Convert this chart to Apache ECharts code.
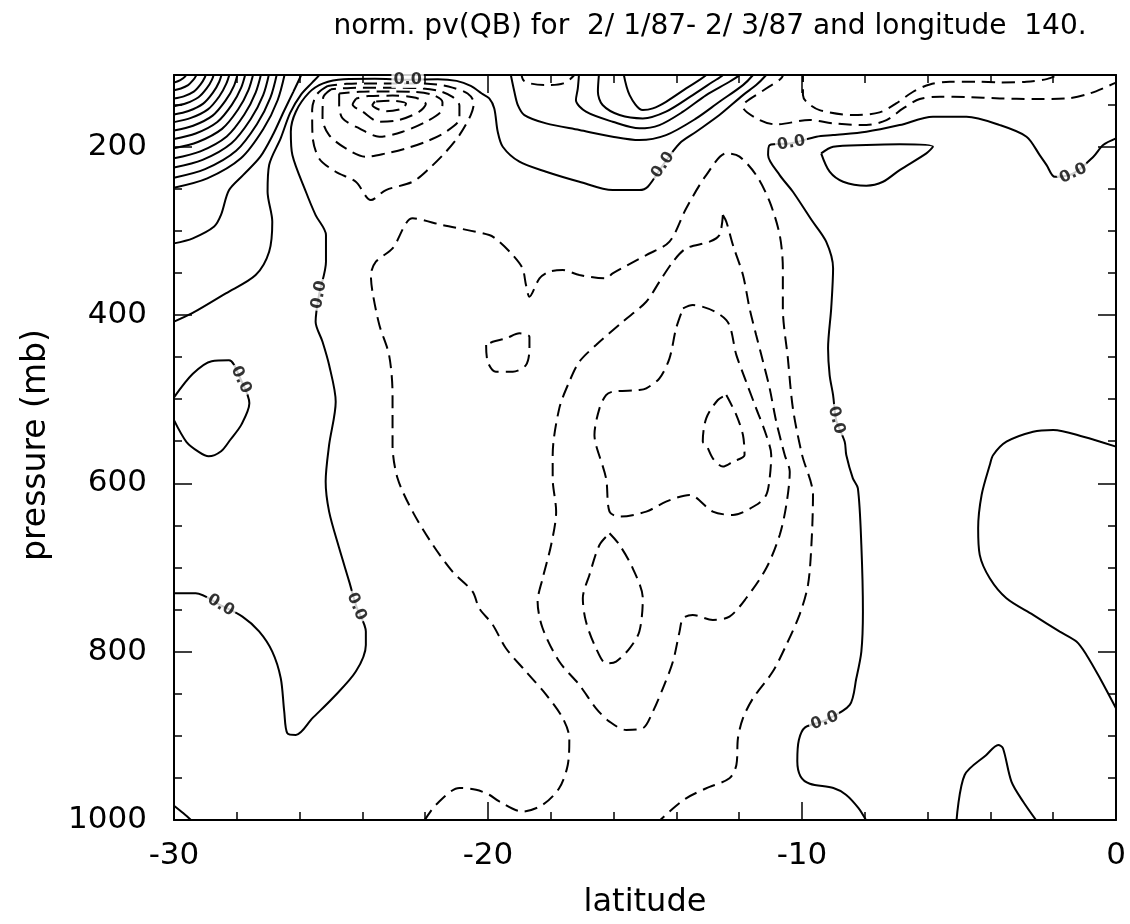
<!DOCTYPE html>
<html>
<head>
<meta charset="utf-8">
<script src="https://cdn.jsdelivr.net/npm/echarts@6/dist/echarts.min.js"></script>
<style>
html, body { margin: 0; padding: 0; background: #fff; }
#chart { width: 1130px; height: 924px; }
</style>
</head>
<body>
<div id="chart"></div>
<script>
// ---- axes ----
const latRange = [-30, 0];
const pressureRange = [115, 1000];
const latLabels = [-30, -20, -10, 0];
const pressureLabels = [200, 400, 600, 800, 1000];
const pressureMinor = [150, 250, 300, 350, 450, 500, 550, 650, 700, 750, 850, 900, 950];

// ---- contours of normalized PV, [latitude, pressure] ----
// positive values (solid): dense fan in the upper-left corner
const fan1 = [[-30,124],[-29.8,121],[-29.65,117],[-29.55,110]];
const fan2 = [[-30,133],[-29.78,131],[-29.55,127],[-29.4,121.5],[-29.3,116],[-29.25,110]];
const fan3 = [[-30,143],[-29.69,140.4],[-29.37,134.8],[-29.16,126.5],[-29.02,118],[-28.95,110]];
const fan4 = [[-30,152],[-29.61,148.6],[-29.22,141.5],[-28.96,131],[-28.79,120.5],[-28.7,110]];
const fan5 = [[-30,162],[-29.54,157.8],[-29.07,149],[-28.76,136],[-28.56,123],[-28.45,110]];
const fan6 = [[-30,171],[-29.46,166],[-28.92,155.8],[-28.56,140.5],[-28.33,125],[-28.2,110]];
const fan7 = [[-30,181],[-29.39,175.3],[-28.77,163.3],[-28.36,145.5],[-28.09,128],[-27.95,110]];
const fan8 = [[-30,191],[-29.31,184.5],[-28.62,170.8],[-28.16,150.5],[-27.86,130],[-27.7,110]];
const fan9 = [[-30,202],[-29.24,194.6],[-28.47,179],[-27.96,156],[-27.63,133],[-27.45,110]];
const fan10 = [[-30,214],[-29.16,205.7],[-28.32,188],[-27.76,162],[-27.4,136],[-27.2,110]];
const fan11 = [[-30,225],[-29.09,215.8],[-28.17,196],[-27.56,167.5],[-27.16,139],[-26.95,110]];
const fan12 = [[-30,237],[-29.01,226.8],[-28.02,205],[-27.36,173.5],[-26.93,142],[-26.7,110]];
const fan13 = [[-30,249],[-28.94,237.9],[-27.87,214],[-27.16,179.5],[-26.7,145],[-26.45,110]];
const fanB = [[-30,315],[-29.4,309],[-28.72,295],[-28.5,281],[-28.25,252],[-27.8,234],[-27.25,212],[-26.85,186],[-26.5,158],[-26.2,135],[-25.95,115],[-25.9,108]];
const fanC = [[-30,408],[-29.42,398],[-28.35,374.4],[-27.4,352.6],[-26.97,324.9],[-26.87,289.3],[-27.02,253.7],[-26.97,222],[-26.6,190],[-26.3,160],[-25.95,138],[-25.6,124],[-25.35,114],[-25.3,108]];

// zero line on the western side, running up under the top edge and round the upper positive lobe
const zeroWest = [[-30,730.7],[-29.31,730.7],[-28.51,745],[-27.82,758.4],[-27.29,776],[-26.87,800],[-26.6,831.6],
  [-26.49,871],[-26.39,897],[-26.12,899],[-25.59,879],[-24.95,855.4],[-24.21,823.7],[-23.89,792],[-23.89,776.2],
  [-24.19,746.5],[-24.42,716.8],[-24.74,677],[-25.06,633.7],[-25.17,598],[-25.06,554.5],[-24.85,503.1],
  [-25.06,459.5],[-25.27,431.8],[-25.49,408.1],[-25.38,376],[-25.16,336.8],[-25.16,305.1],[-25.49,281.4],
  [-25.8,253.7],[-26.23,210.1],[-26.28,182.4],[-26.12,158.6],[-25.7,136],[-25.25,125],[-24.6,120],
  [-23.6,119.5],[-22.56,120.5],[-21.6,120],[-21.0,122],[-20.55,128],[-20.2,137],[-19.96,142.8],[-19.8,154.7],
  [-19.69,182.4],[-19.53,200.2],[-19.0,218],[-18.15,229.9],[-17.09,241.8],[-16.03,251.7],[-15.18,251.7],
  [-14.91,247.7],[-14.43,222],[-13.9,196.3],[-13.37,182.4],[-12.63,162.6],[-11.88,138.9],[-11.46,127],
  [-11.14,115],[-11.0,108]];
const leftLoop = [[-30,498],[-29.4,470],[-28.8,455],[-28.25,454],[-27.87,477],[-27.6,505],[-27.85,530],
  [-28.2,548],[-28.5,562],[-28.9,568],[-29.2,563],[-29.6,551],[-30,525]];
const cornerBL = [[-30,983],[-29.7,992],[-29.4,1002]];

// positive lobe under the top boundary near 15S
const upper1 = [[-19.3,110],[-19.16,134.9],[-19.05,150.7],[-18.84,162.6],[-18.15,172.5],[-17.09,180.4],[-16.03,188.3],
  [-15.18,192.3],[-14.33,186.4],[-13.37,166.6],[-12.63,146.8],[-11.88,127],[-11.56,115],[-11.45,108]];
const upper2 = [[-17.09,108],[-17.14,130.9],[-17.2,144.8],[-16.88,158.6],[-16.03,170.5],[-15.18,178.4],[-14.54,174.5],
  [-13.79,158.6],[-13.05,138.9],[-12.31,123],[-11.99,115],[-11.9,108]];
const upper3 = [[-16.45,108],[-16.5,134.9],[-16.35,150.7],[-15.81,162.6],[-15.07,166.6],[-14.33,158.6],[-13.48,138.9],
  [-12.84,123],[-12.52,115],[-12.45,108]];
const upper4 = [[-15.71,108],[-15.49,138.9],[-15.07,156.7],[-14.75,154.7],[-14.33,146.8],[-13.69,130.9],[-13.05,115],[-12.98,108]];

// zero lines in the east
const zeroEast = [[0,190.3],[-0.41,198.2],[-0.72,212],[-1.36,232],[-1.95,236],[-2.21,222],[-2.43,210.1],[-2.85,188.3],
  [-3.7,174.5],[-4.76,164.6],[-5.83,164.6],[-6.89,174.5],[-7.95,182.4],[-9.01,186.4],[-9.54,188.3],[-10.34,196],
  [-11.03,198.2],[-11.08,210.1],[-10.71,233.9],[-10.29,253.7],[-9.7,287],[-9.23,313],[-9.01,344.7],[-9.07,392.2],
  [-9.17,439.7],[-9.12,471.4],[-9.01,495.2],[-8.91,525],[-8.64,550.6],[-8.59,566.4],[-8.38,594.1],[-8.22,606],
  [-8.11,673.3],[-8.06,752.5],[-8.11,800],[-8.27,831.6],[-8.48,863.3],[-9.28,882],[-9.9,890],[-10.1,905],
  [-10.15,930],[-10.05,948],[-9.75,957],[-9.0,962],[-8.6,970],[-8.2,986],[-7.95,1001]];
const zeroIsland = [[-9.39,208.1],[-9.01,200.2],[-7.95,198.2],[-6.89,197.4],[-5.83,200.2],[-6.04,208.1],[-6.89,227.9],
  [-7.42,241.8],[-7.95,246.5],[-8.69,241.8],[-9.12,229.9],[-9.39,208.1]];
const zeroSE = [[0,556.5],[-1.04,544.7],[-2.0,536.7],[-2.64,538.7],[-3.49,550.6],[-3.91,566.4],[-4.02,578.3],[-4.28,613.9],
  [-4.39,653.5],[-4.34,685.1],[-4.02,712.9],[-3.49,736.6],[-2.64,756.4],[-1.79,776.2],[-1.26,788.1],[-0.94,803.9],
  [-0.51,831.6],[0,867.3]];
const zeroBump = [[-5.08,1001],[-4.82,946.5],[-4.13,922.7],[-3.75,910.8],[-3.6,914.8],[-3.33,954.4],[-2.96,978.1],[-2.53,1001]];

// negative values (dashed)
const outerNeg = [[-22.03,1001],[-21.66,982],[-20.91,962],[-20.38,964],[-19.96,970],[-19.64,978],[-18.9,990],[-18.26,982],
  [-17.73,962],[-17.46,934.6],[-17.41,903],[-17.62,879],[-18.15,851],[-18.79,823.7],[-19.43,796],[-19.85,768],
  [-20.28,748.5],[-20.49,728.7],[-21.13,705],[-21.76,673],[-22.4,633.7],[-22.88,594],[-23.04,554.5],[-23.04,495],
  [-23.15,447.7],[-23.46,412],[-23.68,372.4],[-23.73,352.6],[-23.57,336.8],[-23.04,321],[-22.4,285.3],[-21.45,293.3],
  [-19.96,305.1],[-19.64,313],[-19.21,329],[-18.9,344.7],[-18.79,364.5],[-18.68,378.4],[-18.36,356.6],[-18.05,348.7],
  [-17.62,346.7],[-17.09,352.6],[-16.24,356.6],[-16.03,350.7],[-14.96,328.9],[-14.22,313],[-13.69,273.5],[-13.05,233.9],
  [-12.41,208.1],[-11.99,212],[-11.46,233.9],[-11.03,265.5],[-10.71,305.1],[-10.61,344.7],[-10.61,392.2],[-10.45,451.6],
  [-10.29,511],[-10.0,566],[-9.65,614],[-9.7,673],[-9.81,720.8],[-10.08,756.4],[-10.5,792],[-10.93,823.7],[-11.56,855.4],
  [-11.88,879.1],[-12.04,902.9],[-12.09,934.6],[-12.31,950.4],[-13.05,962.3],[-13.69,974.2],[-14.22,990],[-14.54,1001]];
const midNeg = [[-12.52,281.4],[-12.63,305.1],[-12.94,313],[-13.69,321],[-14.11,336.8],[-14.54,360.6],[-14.96,384.3],
  [-15.71,408.1],[-16.56,435.8],[-17.09,455.6],[-17.41,479.3],[-17.73,511],[-17.94,566.4],[-17.94,594.1],[-17.83,633.7],
  [-17.99,673.3],[-18.26,712.9],[-18.42,740.6],[-18.26,772.2],[-17.73,811.8],[-17.09,839.5],[-16.56,867.3],[-16.13,883.1],
  [-15.6,893],[-15.07,891],[-14.75,871.2],[-14.43,843.5],[-14.11,811.8],[-13.9,776.2],[-13.79,760.4],[-13.48,756.4],
  [-12.84,762.3],[-12.31,758.4],[-11.78,736.6],[-11.14,701],[-10.71,661.4],[-10.5,625.8],[-10.39,586.2],[-10.55,566.4],
  [-10.82,526.8],[-11.03,487.2],[-11.24,455.6],[-11.46,423.9],[-11.67,392.2],[-11.88,352.6],[-12.2,317],[-12.41,289.3],
  [-12.52,281.4]];
const innerNeg = [[-13.79,392.2],[-13.48,388.3],[-12.41,406.1],[-12.09,447.7],[-11.78,479.3],[-11.46,511],[-11.14,542.7],
  [-10.98,566.4],[-11.03,594.1],[-11.14,613.9],[-11.46,625.8],[-12.2,637.6],[-12.84,633.7],[-13.58,613.9],[-14.33,621.8],
  [-14.96,633.7],[-15.81,639.6],[-16.13,633.7],[-16.24,594.1],[-16.56,554.5],[-16.61,542.7],[-16.45,511],[-16.24,495.2],
  [-16.03,491.2],[-15.18,489.2],[-14.96,487.2],[-14.54,475.4],[-14.22,451.6],[-14.01,416],[-13.79,392.2]];
const coreNeg = [[-12.41,495.2],[-12.09,519],[-11.88,542.7],[-11.83,566.4],[-12.2,574.3],[-12.52,580.2],[-12.84,570.3],
  [-13.05,554.5],[-13.16,550.5],[-13.05,522.9],[-12.68,501.1],[-12.41,495.2]];
const westNeg = [[-20.06,435.8],[-20.01,455.6],[-19.75,467.5],[-19.21,467.5],[-18.79,459.5],[-18.68,439.7],[-18.68,425.9],
  [-19.0,421.9],[-19.43,427.9],[-19.85,431.8],[-20.06,435.8]];
const dropNeg = [[-16.13,659.4],[-15.81,673.3],[-15.39,701],[-15.07,736.6],[-15.18,776.2],[-15.49,796],[-15.92,811.8],
  [-16.24,813.8],[-16.56,796],[-16.88,764.3],[-16.98,736.6],[-16.77,708.9],[-16.45,673.3],[-16.13,659.4]];
const topNeg1 = [[-25.1,128],[-25.45,138],[-25.6,156],[-25.59,186.4],[-25.38,214.1],[-24.85,229.9],[-24.21,241.8],
  [-23.73,263.6],[-23.25,251.7],[-22.4,241.8],[-21.87,226],[-21.34,206.2],[-20.91,186.4],[-20.55,162.6],[-20.45,148],
  [-20.65,137],[-21.13,130],[-21.6,126.5],[-22.3,125],[-23.5,125],[-24.5,125.5],[-25.1,128]];
const topNeg2 = [[-25.0,132],[-25.25,142],[-25.27,166.6],[-25.06,186.4],[-24.53,202.2],[-23.89,212.1],[-23.25,208.1],
  [-22.61,202.2],[-21.98,194.3],[-21.34,182.4],[-20.91,166.6],[-20.91,151.5],[-21.13,141],[-21.55,134],[-22.08,131],
  [-23.0,130],[-24.2,130],[-25.0,132]];
const topNeg3 = [[-24.74,137],[-24.74,150],[-24.63,166.6],[-24.1,178.4],[-23.46,188.3],[-22.72,182.4],[-21.98,170.5],
  [-21.5,158.6],[-21.45,147.5],[-21.77,138.5],[-22.4,135],[-23.15,134.5],[-24.1,135],[-24.74,137]];
const topNeg4 = [[-24.2,143],[-24.31,150],[-23.99,158.6],[-23.46,170.5],[-22.83,168.5],[-22.19,158.6],[-21.98,149.5],
  [-22.3,142],[-23.04,139.5],[-23.8,140],[-24.2,143]];
const topNeg5 = [[-23.6,146.5],[-23.68,150.7],[-23.25,158],[-22.72,154.7],[-22.61,149],[-23.04,145.5],[-23.6,146.5]];
const topNegLobe = [[-18.95,108],[-18.85,122],[-18.2,127],[-17.6,125],[-17.25,115],[-17.2,108]];
const eastNegA = [[-9.97,108],[-9.97,138.9],[-9.86,146.8],[-9.44,156.7],[-8.38,162.6],[-7.53,159.4],[-7.0,148.8],
  [-6.46,134.9],[-5.93,126.2],[-5.29,123],[-4.44,123],[-3.7,123.8],[-2.85,123],[-2.21,119.9],[-1.89,115],[-1.8,108]];
const eastNegB = [[-10.61,108],[-10.61,115.1],[-11.14,131],[-11.78,146.8],[-11.88,152.7],[-11.35,168.5],[-10.82,173.7],
  [-9.76,168.5],[-9.01,172.5],[-7.95,174.5],[-7.31,168.5],[-6.78,154.7],[-6.25,143.6],[-5.61,140.8],[-4.76,141.2],
  [-3.7,142.8],[-2.64,143.6],[-1.57,142.8],[-0.83,136.9],[0,124]];

// "0.0" labels on the zero lines: [latitude, pressure, text angle]
const zeroLabels = [[-28.51,745,-30],[-24.19,746.5,-68],[-27.87,477,-65],[-25.38,376,80],[-22.56,121,0],
  [-14.43,222,55],[-10.34,196,10],[-1.36,232,25],[-8.91,525,-76],[-9.28,882,20]];

const solidContours = [fan1, fan2, fan3, fan4, fan5, fan6, fan7, fan8, fan9, fan10, fan11, fan12, fan13, fanB, fanC,
  zeroWest, leftLoop, cornerBL, upper1, upper2, upper3, upper4, zeroEast, zeroIsland, zeroSE, zeroBump];
const dashedContours = [outerNeg, midNeg, innerNeg, coreNeg, westNeg, dropNeg, topNeg1, topNeg2, topNeg3, topNeg4,
  topNeg5, topNegLobe, eastNegA, eastNegB];

// ---- chart ----
const FONT = 'DejaVu Sans';
const ink = '#000';

function contourSeries(points, dashed) {
  return {
    type: 'line', data: points, xAxisIndex: 0, yAxisIndex: 0,
    showSymbol: false, symbol: 'none', smooth: 0.3, clip: true, silent: true,
    lineStyle: { color: ink, width: 2, type: dashed ? [13, 7] : 'solid' },
    z: 2
  };
}

function latAxis(position, showLabels) {
  return {
    type: 'value', position, min: latRange[0], max: latRange[1], interval: 10,
    axisLine: { show: true, onZero: false, lineStyle: { color: ink, width: 2 } },
    axisTick: { show: true, inside: true, length: 18, lineStyle: { color: ink, width: 1.5 } },
    minorTick: { show: true, splitNumber: 5, length: 8, lineStyle: { color: ink, width: 1.5 } },
    splitLine: { show: false }, minorSplitLine: { show: false },
    axisLabel: {
      show: showLabels, margin: 20, color: ink, fontFamily: FONT, fontSize: 31,
      showMinLabel: true, showMaxLabel: true,
      formatter: v => (latLabels.indexOf(v) >= 0 ? String(v) : '')
    }
  };
}

function pressureAxis(position, ticks, tickLen, showLabels, showLine) {
  return {
    type: 'value', position, inverse: true, min: pressureRange[0], max: pressureRange[1],
    axisLine: { show: showLine, onZero: false, lineStyle: { color: ink, width: 2 } },
    axisTick: { show: true, inside: true, length: tickLen, customValues: ticks, lineStyle: { color: ink, width: 1.5 } },
    splitLine: { show: false },
    axisLabel: {
      show: showLabels, customValues: pressureLabels, margin: 27, color: ink,
      fontFamily: FONT, fontSize: 31, formatter: v => String(v)
    }
  };
}

const chart = echarts.init(document.getElementById('chart'), null, { renderer: 'canvas' });

const series = solidContours.map(c => contourSeries(c, false))
  .concat(dashedContours.map(c => contourSeries(c, true)));

series.push({
  type: 'scatter', xAxisIndex: 0, yAxisIndex: 0, symbolSize: 0, silent: true, z: 5,
  data: zeroLabels.map(d => ({ value: [d[0], d[1]], label: { rotate: d[2] } })),
  label: {
    show: true, position: 'inside', formatter: '0.0', color: ink,
    fontFamily: FONT, fontWeight: 'bold', fontSize: 16,
    backgroundColor: '#fff', padding: [0, 2]
  }
});

chart.setOption({
  animation: false,
  backgroundColor: '#fff',
  grid: { left: 174, right: 14, top: 75, bottom: 104 },
  xAxis: [latAxis('bottom', true), latAxis('top', false)],
  yAxis: [
    pressureAxis('left', pressureLabels, 18, true, true),
    pressureAxis('left', pressureMinor, 8, false, false),
    pressureAxis('right', pressureLabels, 18, false, true),
    pressureAxis('right', pressureMinor, 8, false, false)
  ],
  graphic: [
    { type: 'text', x: 710, y: 27, style: {
      text: 'norm. pv(QB) for  2/ 1/87- 2/ 3/87 and longitude  140.',
      font: '28px "DejaVu Sans"', fill: ink, textAlign: 'center', textVerticalAlign: 'middle' } },
    { type: 'text', x: 645, y: 903, style: {
      text: 'latitude', font: '32px "DejaVu Sans"', fill: ink, textAlign: 'center', textVerticalAlign: 'middle' } },
    { type: 'text', x: 36, y: 445, rotation: Math.PI / 2, style: {
      text: 'pressure (mb)', font: '33px "DejaVu Sans"', fill: ink, textAlign: 'center', textVerticalAlign: 'middle' } }
  ],
  series
});
</script>
</body>
</html>
